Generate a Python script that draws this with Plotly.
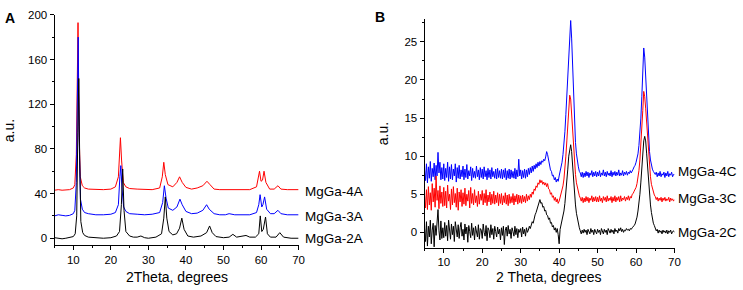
import plotly.graph_objects as go

# ---------------- Panel A data ----------------
x_2a = [5, 6, 7, 8, 9, 10, 10.5, 10.9, 11.2, 11.45, 11.7, 12.0, 12.5, 13, 14, 16, 18, 20, 21.5, 22.3, 22.8, 23.15, 23.5, 24,
        25, 26, 27, 28, 29, 30, 32, 33.5, 34.1, 34.5, 34.9, 35.5, 36.5, 37.5, 38.3, 38.9, 39.5, 40.5, 42, 44, 45.5, 46.3,
        47, 48, 50, 51.5, 52.5, 53.5, 55, 56, 57, 58.5, 59.4, 59.8, 60.2, 60.6, 61.2, 61.7, 62.5, 64, 65, 66, 68, 70]
y_2a = [0.5, 0, -0.5, 0, 0.5, 1.5, 4, 20, 95, 143, 70, 15, 5, 2.5, 1, 0.5, 0, 0.5, 2, 6, 30, 62, 25, 6,
        2, 1, 1, 2, 0.5, 0, 1, 4, 18, 37, 18, 6, 3, 4, 9, 18, 8, 2, 1, 2, 5, 11,
        5, 1.5, 0.5, 1, 3.5, 1, 1.5, 2.5, 1, 1, 4, 20, 6, 8, 19, 4, 1, 1, 5, 1, 0, 0]

x_3a = [5, 6, 7, 8, 9, 10, 10.4, 10.8, 11.1, 11.3, 11.55, 11.9, 12.4, 13, 14, 16, 18, 20, 21.2, 22, 22.4, 22.65, 22.95,
        23.4, 24, 25, 27, 29, 31, 33, 33.8, 34.25, 34.7, 35.3, 36.5, 37.6, 38.4, 39, 40, 41.5, 43, 44.5, 45.5, 46.2,
        47.5, 49, 50.5, 51.5, 53, 55, 57, 58.8, 59.4, 59.75, 60.2, 60.5, 60.95, 61.5, 62.5, 63.5, 64.5, 65.3, 67, 70]
y_3a = [20, 21, 20.5, 20, 20.5, 22, 25, 50, 130, 180, 90, 35, 26, 23, 22, 21, 21, 21.5, 23, 30, 55, 65, 45,
        28, 24, 22, 21.5, 21, 21.5, 23, 32, 47, 36, 27, 25, 28, 35, 30, 24, 22, 22.5, 25, 30, 26,
        22, 21, 21, 22, 21, 21, 21, 23, 30, 39, 28, 30, 37, 26, 22, 22, 25, 22, 21, 21]

x_4a = [5, 6, 7, 8, 9, 10, 10.4, 10.8, 11.05, 11.25, 11.5, 11.85, 12.4, 13, 14, 16, 18, 20, 21.2, 22, 22.35, 22.55, 22.85,
        23.3, 24, 25, 27, 29, 31, 33, 33.7, 34.1, 34.5, 35.2, 36.5, 37.6, 38.3, 39, 40, 41.5, 43, 44.5, 45.6, 46.4,
        47.5, 49, 51, 53, 55, 57, 58.8, 59.3, 59.6, 60.0, 60.4, 60.8, 61.3, 62.3, 63.5, 64.5, 65.3, 67, 70]
y_4a = [43, 43.5, 43, 43, 43.5, 45, 48, 75, 150, 193, 100, 55, 47, 45, 44, 43.5, 43.5, 44, 46, 55, 80, 90, 70,
        50, 46, 44.5, 44, 43.5, 43.5, 45, 55, 68, 57, 48, 46, 50, 55, 50, 45.5, 44, 45, 47, 51, 48,
        44, 43.5, 43.5, 43, 43.5, 43.5, 46, 53, 60, 51, 52, 60, 50, 44, 44, 47, 44, 43.5, 43.5]

labels_a = ["MgGa-4A", "MgGa-3A", "MgGa-2A"]
label_levels_a = [42, 19.5, 0]

# ---------------- Panel B data (scan step 0.25 deg, 5..70) ----------------
two_theta_b = [round(5 + 0.25 * i, 2) for i in range(261)]

y_2c = [
    0.5, -1.2, 1.4, -1.8, 0.8, -0.6, 1.6, -1.5, 0.3, 1.2, -1.9, 0.9, -0.4, 1.8, 3.0, 0.2, -1.0, 1.5, -0.8, 0.6,
    -0.7, 1.3, -0.5, 0.9, -1.1, 1.6, 0.2, -0.9, 1.1, -0.3, 0.8, -1.2, 1.4, 0.0, -0.6, 1.0, -0.8, 0.6, 1.3, -0.5,
    0.4, -1.0, 1.1, -0.2, 0.7, -1.3, 0.9, 0.1, -0.7, 1.2, -0.4, 0.6, -1.0, 0.8, 0.2, -0.6, 1.0, -0.9, 0.5, 0.3,
    -0.8, 1.1, 0.0, -0.5, 0.9, -1.1, 0.6, 0.3, -0.7, 1.0, -0.3, 0.5, -0.9, 0.8, 0.1, -0.6, 0.7, -0.2, 0.4, -1.0,
    0.6, -0.4, 0.8, -1.6, 0.3, 0.7, -0.5, 0.9, -0.2, 0.4, -0.8, 0.6, 0.1, -0.5, 0.8, -0.3, 0.5, -0.7, 0.4, 0.0,
    0.5, -0.6, 0.7, -0.2, 0.4, -0.5, 0.6, 0.0, 0.3, 0.8, 0.5, 1.0, 1.4, 1.2, 1.9, 2.3, 2.6, 3.1, 3.4, 4.0,
    4.3, 3.8, 3.9, 3.3, 3.4, 2.8, 2.9, 2.3, 2.2, 1.7, 1.9, 1.2, 1.3, 0.7, 0.9, 0.3, 0.6, 0.0, 0.5, -0.3,
    -1.5, 0.4, 1.0, 1.5, 2.2, 2.8, 3.8, 5.0, 6.5, 8.3, 10.0, 11.2, 11.5, 10.6, 8.6, 6.6, 5.0, 3.6, 2.5, 1.7,
    1.1, 0.6, 0.2, -0.2, 0.3, -0.1, 0.4, 0.0, 0.3, -0.3, 0.4, 0.1, -0.2, 0.5, 0.0, 0.3, -0.3, 0.4, 0.1, -0.2,
    0.4, 0.0, 0.3, -0.3, 0.5, 0.1, -0.2, 0.4, 0.0, 0.3, -0.3, 0.5, 0.2, -0.1, 0.4, 0.0, 0.3, -0.2, 0.5, 0.1,
    0.3, -0.1, 0.5, 0.2, 0.6, 0.1, 0.4, 0.0, 0.3, 0.2, 0.5, 0.3, 0.4, 0.2, 0.5, 0.4, 0.6, 0.7, 0.9, 1.1,
    1.5, 2.0, 2.8, 3.8, 5.0, 6.6, 8.5, 10.4, 12.0, 12.6, 12.0, 10.4, 8.5, 6.6, 5.0, 3.6, 2.6, 1.8, 1.2, 0.9,
    0.6, 0.2, 0.4, -0.1, 0.3, 0.0, 0.2, -0.2, 0.3, 0.0, 0.2, -0.1, 0.3, -0.2, 0.2, 0.0, 0.3, -0.2, 0.1, 0.2,
    0.0,
]

y_3c = [
    4.8, 3.2, 5.6, 3.0, 6.0, 3.6, 5.2, 2.9, 6.4, 4.0, 5.8, 3.3, 7.4, 4.2, 5.5, 3.1, 6.1, 3.8, 5.3, 3.4,
    5.9, 3.5, 5.4, 3.2, 6.2, 4.1, 5.0, 3.0, 5.7, 3.6, 6.0, 3.9, 5.1, 3.3, 5.8, 2.9, 5.3, 4.0, 5.6, 3.4,
    5.2, 3.7, 5.8, 3.5, 5.0, 4.1, 5.5, 3.2, 5.9, 3.8, 5.1, 3.6, 5.6, 3.9, 4.8, 3.4, 5.4, 3.7, 5.0, 4.2,
    5.5, 3.6, 5.1, 3.9, 5.6, 3.5, 4.9, 4.0, 5.3, 3.6, 5.0, 3.8, 5.4, 3.7, 4.9, 3.9, 5.2, 3.5, 5.0, 3.8,
    5.1, 3.6, 4.8, 3.9, 5.2, 3.7, 4.9, 3.5, 5.0, 3.8, 4.7, 3.9, 5.1, 3.6, 4.8, 4.0, 5.0, 3.7, 4.9, 3.9,
    4.8, 3.8, 4.9, 4.0, 4.7, 3.9, 5.0, 4.1, 4.8, 4.3, 5.0, 4.6, 5.3, 5.0, 5.7, 5.5, 6.1, 5.9, 6.5, 6.3,
    6.9, 6.5, 6.8, 6.3, 6.6, 6.2, 6.5, 6.0, 6.4, 5.7, 5.6, 5.0, 5.2, 4.6, 4.8, 4.2, 4.6, 4.0, 4.4, 3.8,
    4.1, 4.6, 5.0, 5.5, 6.1, 7.0, 8.3, 10.0, 12.0, 14.3, 16.4, 18.0, 17.5, 15.5, 13.0, 10.8, 9.0, 7.6, 6.5, 5.8,
    5.2, 4.8, 4.5, 4.1, 4.6, 3.9, 4.5, 4.0, 4.7, 4.1, 4.6, 3.9, 4.5, 4.2, 4.8, 4.0, 4.6, 4.1, 4.7, 4.0,
    4.6, 4.0, 4.8, 4.1, 4.5, 3.9, 4.7, 4.2, 4.6, 4.0, 4.8, 4.1, 4.5, 4.2, 4.7, 3.9, 4.6, 4.1, 4.8, 4.0,
    4.6, 4.2, 4.7, 4.0, 4.8, 4.1, 4.5, 4.3, 4.7, 4.1, 4.6, 4.3, 4.8, 4.2, 4.7, 4.5, 5.0, 5.1, 5.4, 5.6,
    5.9, 6.4, 7.1, 8.1, 9.5, 11.3, 13.5, 16.0, 18.5, 17.8, 16.3, 14.2, 12.0, 10.1, 8.6, 7.3, 6.3, 5.7, 5.2, 4.9,
    4.7, 4.3, 4.6, 4.1, 4.5, 4.2, 4.6, 4.0, 4.5, 4.2, 4.6, 4.1, 4.4, 4.2, 4.6, 4.0, 4.5, 4.2, 4.4, 4.1,
    4.3,
]

y_4c = [
    8.2, 6.8, 9.0, 6.5, 8.6, 7.1, 9.3, 6.7, 8.4, 7.3, 9.1, 6.9, 8.8, 7.4, 10.5, 7.8, 9.2, 6.9, 8.5, 7.0,
    9.0, 6.8, 8.4, 7.2, 9.2, 6.7, 8.6, 7.0, 8.9, 6.9, 8.3, 7.4, 9.0, 6.6, 8.5, 7.1, 8.8, 7.0, 8.2, 7.3,
    8.7, 6.9, 8.3, 7.2, 8.9, 7.0, 8.1, 7.4, 8.6, 6.8, 8.4, 7.2, 8.0, 7.1, 8.7, 7.3, 8.2, 6.9, 8.5, 7.2,
    8.3, 7.0, 8.6, 7.3, 8.1, 6.9, 8.4, 7.2, 8.2, 7.0, 8.5, 7.3, 8.0, 7.1, 8.3, 7.0, 8.4, 7.2, 8.1, 7.1,
    8.3, 7.0, 8.2, 7.2, 8.4, 6.9, 8.1, 7.1, 8.3, 7.0, 8.2, 7.2, 8.0, 7.1, 8.4, 7.0, 8.2, 7.3, 9.6, 7.4,
    8.2, 7.0, 8.1, 7.2, 8.3, 7.1, 8.2, 7.3, 8.4, 7.6, 8.5, 7.8, 8.7, 8.0, 8.8, 8.3, 9.0, 8.5, 9.2, 8.7,
    9.3, 8.9, 9.4, 9.2, 9.6, 9.4, 9.9, 10.6, 10.2, 9.3, 8.9, 8.2, 8.0, 7.4, 7.5, 6.9, 7.2, 6.6, 7.0, 6.7,
    7.4, 7.9, 8.5, 9.2, 10.2, 11.5, 13.2, 15.5, 18.2, 21.2, 24.2, 26.8, 27.8, 25.5, 21.5, 17.2, 14.0, 11.8, 10.3, 9.2,
    8.6, 8.0, 7.8, 7.3, 7.9, 7.2, 7.8, 7.3, 8.0, 7.4, 7.9, 7.2, 7.8, 7.5, 8.1, 7.3, 7.9, 7.4, 8.0, 7.3,
    7.9, 7.4, 8.1, 7.3, 7.8, 7.5, 8.2, 7.4, 7.9, 7.3, 8.0, 7.5, 7.8, 7.4, 8.1, 7.3, 7.9, 7.5, 8.0, 7.4,
    7.9, 7.5, 8.2, 7.4, 7.8, 7.5, 8.1, 7.4, 7.9, 7.6, 8.0, 7.5, 7.9, 7.7, 8.1, 7.8, 8.2, 8.3, 8.6, 8.8,
    9.2, 9.6, 10.3, 11.4, 13.0, 15.0, 17.8, 21.0, 24.2, 23.0, 20.5, 17.2, 14.3, 12.2, 10.6, 9.5, 8.8, 8.3, 8.0, 7.8,
    7.6, 7.9, 7.3, 7.8, 7.4, 8.0, 7.3, 7.7, 7.5, 7.9, 7.2, 7.8, 7.4, 8.0, 7.3, 7.7, 7.5, 7.9, 7.3, 7.6,
    7.6,
]

labels_b = ["MgGa-4C", "MgGa-3C", "MgGa-2C"]
label_levels_b = [8.0, 4.4, 0.0]

# ---------------- Figure ----------------
FONT = "Liberation Sans, Arial, sans-serif"
fig = go.Figure()

line_w = 1
# Panel A traces
fig.add_trace(go.Scatter(x=x_4a, y=y_4a, mode="lines", line=dict(color="#ff0000", width=line_w),
                         xaxis="x", yaxis="y", showlegend=False))
fig.add_trace(go.Scatter(x=x_3a, y=y_3a, mode="lines", line=dict(color="#0000ff", width=line_w),
                         xaxis="x", yaxis="y", showlegend=False))
fig.add_trace(go.Scatter(x=x_2a, y=y_2a, mode="lines", line=dict(color="#000000", width=line_w),
                         xaxis="x", yaxis="y", showlegend=False))
# Panel B traces
fig.add_trace(go.Scatter(x=two_theta_b, y=y_4c, mode="lines", line=dict(color="#0000ff", width=line_w),
                         xaxis="x2", yaxis="y2", showlegend=False))
fig.add_trace(go.Scatter(x=two_theta_b, y=y_3c, mode="lines", line=dict(color="#ff0000", width=line_w),
                         xaxis="x2", yaxis="y2", showlegend=False))
fig.add_trace(go.Scatter(x=two_theta_b, y=y_2c, mode="lines", line=dict(color="#000000", width=line_w),
                         xaxis="x2", yaxis="y2", showlegend=False))

W, H = 743, 290


def px_x(p):
    return p / W


def px_y(p):
    return 1 - p / H


axis_common = dict(showline=True, linecolor="black", linewidth=1, ticks="outside", ticklen=4,
                   tickcolor="black", showgrid=False, zeroline=False, mirror=False,
                   tickfont=dict(family=FONT, size=11.5, color="black"))

fig.update_layout(
    width=W, height=H,
    margin=dict(l=0, r=0, t=0, b=0),
    paper_bgcolor="white", plot_bgcolor="white",
    font=dict(family=FONT, color="black"),
    xaxis=dict(domain=[px_x(55), px_x(301)], range=[5, 70], anchor="y", dtick=10, tick0=0,
               minor=dict(ticks="outside", ticklen=2, dtick=5, tickcolor="black"), **axis_common),
    yaxis=dict(domain=[px_y(244), px_y(9)], range=[-6, 200], anchor="x", dtick=40, tick0=0,
               minor=dict(ticks="outside", ticklen=2, dtick=20, tickcolor="black"), **axis_common),
    xaxis2=dict(domain=[px_x(428), px_x(680)], range=[5, 70], anchor="y2", dtick=10, tick0=0,
                minor=dict(ticks="outside", ticklen=2, dtick=5, tickcolor="black"), **axis_common),
    yaxis2=dict(domain=[px_y(246.7), px_y(13.3)], range=[-2, 28], anchor="x2", dtick=5, tick0=0,
                minor=dict(ticks="outside", ticklen=2, dtick=2.5, tickcolor="black"), **axis_common),
)

ann = []
# series labels
for t, lv in zip(labels_a, label_levels_a):
    ann.append(dict(text=t, x=px_x(305), xref="paper", y=lv, yref="y", xanchor="left", yanchor="middle",
                    showarrow=False, font=dict(family=FONT, size=13.5, color="black")))
for t, lv in zip(labels_b, label_levels_b):
    ann.append(dict(text=t, x=px_x(682), xref="paper", y=lv, yref="y2", xanchor="left", yanchor="middle",
                    showarrow=False, font=dict(family=FONT, size=13.5, color="black")))
# axis titles
ann.append(dict(text="2Theta, degrees", x=px_x(178), y=px_y(277), xref="paper", yref="paper",
                xanchor="center", yanchor="middle", showarrow=False, font=dict(family=FONT, size=14)))
ann.append(dict(text="2 Theta, degrees", x=px_x(553), y=px_y(277), xref="paper", yref="paper",
                xanchor="center", yanchor="middle", showarrow=False, font=dict(family=FONT, size=14)))
ann.append(dict(text="a.u.", x=px_x(9), y=px_y(127), xref="paper", yref="paper", textangle=-90,
                xanchor="center", yanchor="middle", showarrow=False, font=dict(family=FONT, size=14)))
ann.append(dict(text="a.u.", x=px_x(386), y=px_y(130), xref="paper", yref="paper", textangle=-90,
                xanchor="center", yanchor="middle", showarrow=False, font=dict(family=FONT, size=14)))
# panel letters
ann.append(dict(text="<b>A</b>", x=px_x(10), y=px_y(12), xref="paper", yref="paper",
                xanchor="center", yanchor="middle", showarrow=False, font=dict(family=FONT, size=14)))
ann.append(dict(text="<b>B</b>", x=px_x(383), y=px_y(11), xref="paper", yref="paper",
                xanchor="center", yanchor="middle", showarrow=False, font=dict(family=FONT, size=14)))
fig.update_layout(annotations=ann)

fig.write_html("out.html", config={"displayModeBar": False},
               post_script="document.body.style.margin='0';document.body.style.overflow='hidden';")
